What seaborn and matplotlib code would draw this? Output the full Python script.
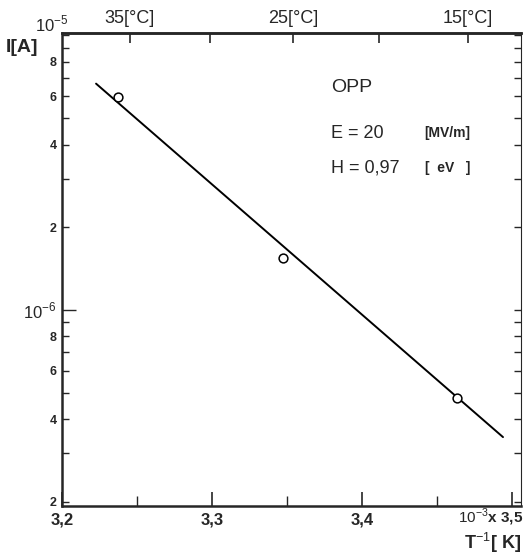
import numpy as np
import pandas as pd
import matplotlib
matplotlib.use("Agg")
import matplotlib.pyplot as plt
import seaborn as sns
from matplotlib.ticker import FixedLocator, FixedFormatter, NullFormatter

# ---- data ----
inv_T = [3.237, 3.347, 3.463]          # 10^-3 / K
current = [5.98e-6, 1.54e-6, 4.76e-7]  # A
fit_x = [3.2227, 3.494]
fit_y = [6.67e-6, 3.44e-7]

y_major = [2e-7, 4e-7, 6e-7, 8e-7, 1e-6, 2e-6, 4e-6, 6e-6, 8e-6]
y_major_labels = ["2", "4", "6", "8", r"$10^{-6}$", "2", "4", "6", "8"]
y_minor = [3e-7, 5e-7, 7e-7, 9e-7, 3e-6, 5e-6, 7e-6, 9e-6, 1e-5]
x_major = [3.2, 3.3, 3.4, 3.5]
x_major_labels = ["3,2", "3,3", "3,4", ""]
x_minor = [3.25, 3.35, 3.45]
top_major = [35, 25, 15]
top_major_labels = ["35[°C]", "25[°C]", "15[°C]"]
top_minor = [30, 20]

sns.set_style("ticks")
plt.rcParams["font.family"] = ["Liberation Sans", "DejaVu Sans"]
plt.rcParams["mathtext.fontset"] = "custom"
plt.rcParams["mathtext.rm"] = "Liberation Sans"
plt.rcParams["mathtext.bf"] = "Liberation Sans:bold"

W, H = 523, 556
fig = plt.figure(figsize=(W / 100, H / 100), dpi=100)
ax = fig.add_axes([62 / W, 1 - 506 / H, (521 - 62) / W, (506 - 33) / H])

df_pts = pd.DataFrame({"x": inv_T, "y": current})
df_fit = pd.DataFrame({"x": fit_x, "y": fit_y})
sns.lineplot(data=df_fit, x="x", y="y", ax=ax, color="black", linewidth=1.4)
sns.scatterplot(data=df_pts, x="x", y="y", ax=ax, marker="o", s=40,
                facecolor="white", edgecolor="black", linewidth=1.1, zorder=5)

ax.set_yscale("log")
ax.set_xlim(3.2, 3.506)
ax.set_ylim(1.93e-7, 1.02e-5)
ax.set_xlabel("")
ax.set_ylabel("")

ax.yaxis.set_major_locator(FixedLocator(y_major))
ax.yaxis.set_major_formatter(FixedFormatter(y_major_labels))
ax.yaxis.set_minor_locator(FixedLocator(y_minor))
ax.yaxis.set_minor_formatter(NullFormatter())
ax.xaxis.set_major_locator(FixedLocator(x_major))
ax.xaxis.set_major_formatter(FixedFormatter(x_major_labels))
ax.xaxis.set_minor_locator(FixedLocator(x_minor))

ax.tick_params(axis="y", which="both", direction="in", left=True, right=True,
               length=5, width=1.0, labelsize=9, pad=4)
ax.tick_params(axis="x", which="major", direction="in", bottom=True, top=False,
               length=10, width=1.2, labelsize=12, pad=5)
ax.tick_params(axis="x", which="minor", direction="in", bottom=True, top=False,
               length=7, width=1.0)
for lab in ax.get_yticklabels():
    lab.set_fontweight("bold")
for lab in ax.get_xticklabels():
    lab.set_fontweight("bold")
ax.get_yticklabels()[4].set_fontsize(12)
ax.get_yticklabels()[4].set_fontweight("normal")
ax.yaxis.get_major_ticks()[4].tick1line.set_markersize(10)

for s in ["left", "bottom", "top"]:
    ax.spines[s].set_linewidth(1.8)
ax.spines["right"].set_linewidth(0.8)

# top temperature axis
sec = ax.secondary_xaxis("top", functions=(lambda x: 1000.0 / x - 273.15,
                                           lambda t: 1000.0 / (t + 273.15)))
sec.xaxis.set_major_locator(FixedLocator(top_major))
sec.xaxis.set_major_formatter(FixedFormatter(top_major_labels))
sec.xaxis.set_minor_locator(FixedLocator(top_minor))
sec.tick_params(axis="x", which="both", direction="in", length=7, width=1.2,
                labelsize=13, pad=4)
sec.spines["top"].set_linewidth(1.8)

# annotations
fig.text(35 / W, 1 - 24 / H, r"$10^{-5}$", fontsize=12, ha="left", va="center")
fig.text(6 / W, 1 - 47 / H, "I[A]", fontsize=14, fontweight="bold",
         ha="left", va="center")
fig.text(523 / W, 1 - 517 / H, r"$10^{-3}$x 3,5", fontsize=11, fontweight="bold",
         ha="right", va="center")
fig.text(521 / W, 1 - 543 / H, r"T$^{-1}$[ K]", fontsize=13, fontweight="bold",
         ha="right", va="center")

fig.text(331 / W, 1 - 88 / H, "OPP", fontsize=14, ha="left", va="center")
fig.text(331 / W, 1 - 133 / H, "E = 20", fontsize=13, ha="left", va="center")
fig.text(424 / W, 1 - 133 / H, "[MV/m]", fontsize=10, fontweight="bold",
         ha="left", va="center")
fig.text(331 / W, 1 - 168 / H, "H = 0,97", fontsize=13, ha="left", va="center")
fig.text(425 / W, 1 - 168 / H, "[  eV   ]", fontsize=10, fontweight="bold",
         ha="left", va="center")

fig.savefig("out.png", dpi=100)
